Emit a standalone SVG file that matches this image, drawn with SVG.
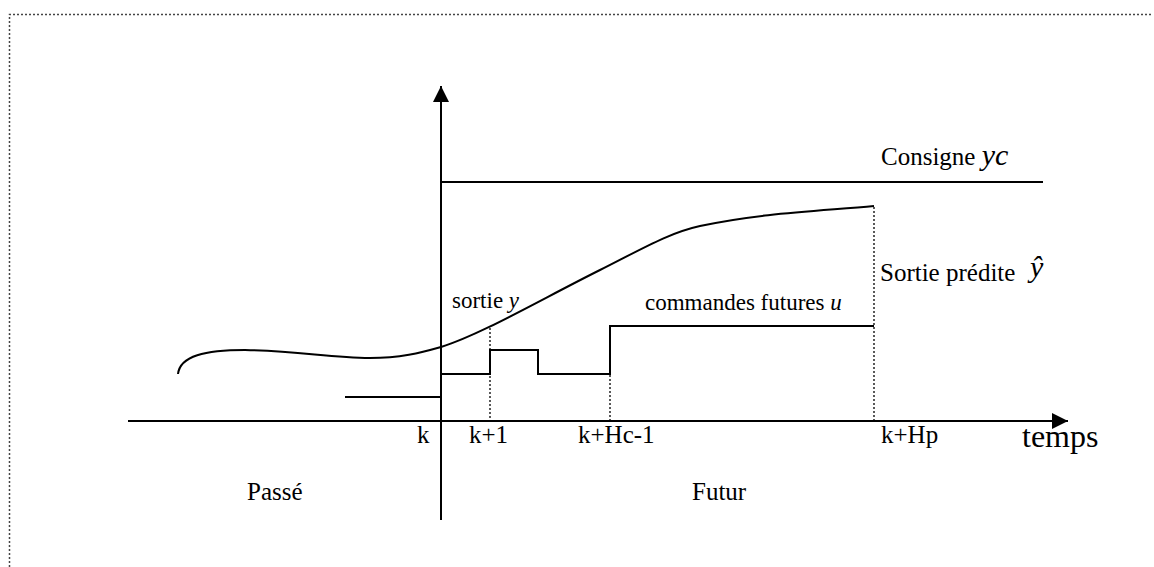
<svg xmlns="http://www.w3.org/2000/svg" width="1154" height="567" viewBox="0 0 1154 567">
<style>
.ln{stroke:#000;stroke-width:2;fill:none}
.dot{stroke:#000;stroke-width:1.3;stroke-dasharray:2,2;fill:none}
.t{font-family:"Liberation Serif","Times New Roman",serif;fill:#000}
.i{font-style:italic}
</style>
<defs>
<marker id="ah" viewBox="0 0 16 16" refX="16" refY="8" markerWidth="16" markerHeight="16" markerUnits="userSpaceOnUse" orient="auto">
<path d="M0,0L16,8L0,16Z" fill="#000"/>
</marker>
</defs>
<rect width="1154" height="567" fill="#fff"/>
<g id="border">
<path d="M9.5,567V14.5H1153" stroke="#444" stroke-width="1.5" stroke-dasharray="2,2" fill="none"/>
</g>
<g id="connectors">
<line id="yaxis" class="ln" x1="441" y1="520" x2="441" y2="86" marker-end="url(#ah)"/>
<line id="xaxis" class="ln" x1="128" y1="421" x2="1068" y2="421" marker-end="url(#ah)"/>
<line id="consigne-line" class="ln" x1="441" y1="182" x2="1043" y2="182"/>
<path id="curve" class="ln" d="M178,374 C180,356 205,350 245,350 C300,351 330,358 370,358 C400,358 420,353 441,347 C480,335 540,300 600,270 C640,250 668,233 700,226 C760,213 820,211 874,206"/>
<path id="steps" class="ln" d="M345,397H441V374H490V350H538V374H610V326H874"/>
<line class="dot" x1="490" y1="328" x2="490" y2="420"/>
<line class="dot" x1="610" y1="375" x2="610" y2="420"/>
<line class="dot" x1="874" y1="207" x2="874" y2="420"/>
</g>
<g id="label-consigne"><text class="t" x="881" y="165" font-size="25">Consigne <tspan class="i" font-size="30">yc</tspan></text></g>
<g id="label-sortie-predite"><text class="t" x="880" y="281" font-size="25">Sortie prédite</text>
<text class="t i" x="1030" y="277" font-size="30">ŷ</text></g>
<g id="label-sortie"><text class="t" x="452" y="308" font-size="23">sortie <tspan class="i">y</tspan></text></g>
<g id="label-commandes"><text class="t" x="645" y="310" font-size="23">commandes futures  <tspan class="i">u</tspan></text></g>
<g id="ticks">
<text class="t" x="417" y="443" font-size="25">k</text>
<text class="t" x="469" y="443" font-size="25">k+1</text>
<text class="t" x="578" y="443" font-size="25">k+Hc-1</text>
<text class="t" x="881" y="443" font-size="25">k+Hp</text>
<text class="t" x="1022" y="447" font-size="32">temps</text>
</g>
<g id="label-passe"><text class="t" x="247" y="500" font-size="25">Passé</text></g>
<g id="label-futur"><text class="t" x="692" y="500" font-size="25">Futur</text></g>
</svg>
